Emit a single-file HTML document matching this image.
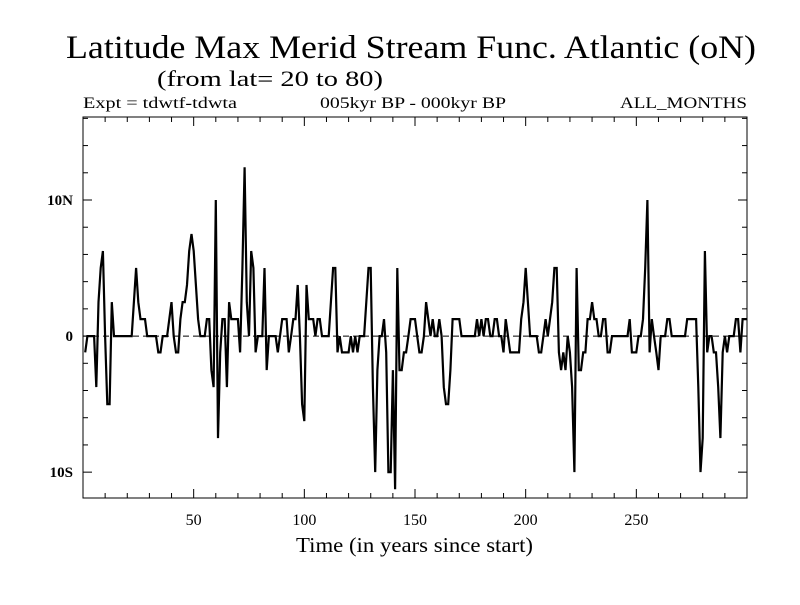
<!DOCTYPE html>
<html><head><meta charset="utf-8"><style>
body{margin:0;background:#fff;}
svg text{font-family:"Liberation Serif",serif;fill:#000;}
</style></head><body>
<svg id="chart" width="800" height="600" xmlns="http://www.w3.org/2000/svg">
<rect width="800" height="600" fill="#fff"/>
<text x="66" y="58" font-size="33" textLength="690" lengthAdjust="spacingAndGlyphs">Latitude Max Merid Stream Func. Atlantic (oN)</text>
<text x="157" y="86" font-size="22" textLength="226" lengthAdjust="spacingAndGlyphs">(from lat= 20 to 80)</text>
<text x="83" y="108" font-size="16" textLength="154" lengthAdjust="spacingAndGlyphs">Expt = tdwtf-tdwta</text>
<text x="320" y="108" font-size="16" textLength="186" lengthAdjust="spacingAndGlyphs">005kyr BP - 000kyr BP</text>
<text x="620" y="108" font-size="16" textLength="127" lengthAdjust="spacingAndGlyphs">ALL_MONTHS</text>
<text x="296" y="552" font-size="21" textLength="237" lengthAdjust="spacingAndGlyphs">Time (in years since start)</text>
<g id="axes"></g>
<g id="series"></g>
</svg>
<script>
const tickYears = [50,100,150,200,250];
const yTickVals = [10,0,-10];
const yTickLabels = ["10N","0","10S"];
const values1 = [-1.2,0,0,0,0,-3.75,2.5,5,6.25,0,-5,-5,2.5,0,0,0,0,0,0,0,0,0,2.5,5,2.5,1.25,1.25,1.25,0,0,0,0,0,-1.2,-1.2,0,0,0,1.25,2.5,0,-1.2,-1.2,1.25,2.5,2.5,3.75,6.25,7.5,6.25];
const values2 = [3.75,1.25,0,0,0,1.25,1.25,-2.5,-3.75,10,-7.5,-1.2,1.25,1.25,-3.75,2.5,1.25,1.25,1.25,1.25,-1.2,5,12.4,2.5,0,6.25,5,-1.2,0,0,0,5,-2.5,0,0,0,0,-1.2,0,1.25,1.25,1.25,-1.2,0,1.25,1.25,3.75,0,-5,-6.25];
const values3 = [3.75,1.25,1.25,1.25,0,1.25,1.25,0,0,0,0,2.5,5,5,-1.2,0,-1.2,-1.2,-1.2,-1.2,0,-1.2,0,-1.2,0,0,0,2.5,5,5,-3.75,-10,-2.5,0,0,1.25,-1.2,-10,-10,-2.5,-11.25,5,-2.5,-2.5,-1.2,-1.2,0,1.25,1.25,1.25];
const values4 = [0,-1.2,-1.2,0,2.5,1.25,0,1.25,0,0,1.25,0,-3.75,-5,-5,-2.5,1.25,1.25,1.25,1.25,0,0,0,0,0,0,0,1.25,0,1.25,0,1.25,1.25,0,0,1.25,1.25,0,0,-1.2,1.25,0,-1.2,-1.2,-1.2,-1.2,-1.2,1.25,2.5,5];
const values5 = [2.5,0,0,0,0,-1.2,-1.2,0,1.25,0,1.25,2.5,5,5,-1.2,-2.5,-1.2,-2.5,0,-1.2,-3.75,-10,5,-2.5,-2.5,-1.2,-1.2,1.25,1.25,2.5,1.25,1.25,0,0,1.25,1.25,-1.2,-1.2,0,0,0,0,0,0,0,0,1.25,-1.2,-1.2,-1.2];
const values6 = [0,0,1.25,5,10,-1.2,1.25,0,-1.2,-2.5,0,0,0,1.25,1.25,0,0,0,0,0,0,0,1.25,1.25,1.25,1.25,1.25,-3.75,-10,-7.5,6.25,-1.2,0,0,-1.2,-1.2,-3.75,-7.5,-1.2,0,-1.2,0,0,0,1.25,1.25,-1.2,1.25,1.25,1.25];
const values = values1.concat(values2,values3,values4,values5,values6);

const L=83,R=747,T=117,B=498,XMIN=0,XMAX=300,YMIN=-11.9,YMAX=16.1;
const xs=v=>L+(v-XMIN)/(XMAX-XMIN)*(R-L);
const ys=v=>B-(v-YMIN)/(YMAX-YMIN)*(B-T);
const NS="http://www.w3.org/2000/svg";
const axes=document.getElementById('axes'), series=document.getElementById('series');
function mk(tag,attrs,parent){const e=document.createElementNS(NS,tag);for(const k in attrs)e.setAttribute(k,attrs[k]);parent.appendChild(e);return e;}

const frame=mk('rect',{x:L,y:T,width:R-L,height:B-T,fill:'none',stroke:'#000','stroke-width':1},axes);


const zl=mk('line',{x1:L,x2:R,y1:ys(0),y2:ys(0),stroke:'#000','stroke-width':1,'stroke-dasharray':'6,4'},axes);



for(let t=10;t<300;t+=10){
  const len=(t%50===0)?9:5;
  mk('line',{x1:xs(t),x2:xs(t),y1:B,y2:B-len,stroke:'#000'},axes);
  mk('line',{x1:xs(t),x2:xs(t),y1:T,y2:T+len,stroke:'#000'},axes);
}
for(let v=-10;v<=16;v+=2){
  const len=(v%10===0)?9:5;
  mk('line',{x1:L,x2:L+len,y1:ys(v),y2:ys(v),stroke:'#000'},axes);
  mk('line',{x1:R,x2:R-len,y1:ys(v),y2:ys(v),stroke:'#000'},axes);
}
tickYears.forEach(t=>{
  const e=mk('text',{x:xs(t),y:525,'font-size':16,'text-anchor':'middle'},axes);
  e.textContent=t;
  
  
});
yTickVals.forEach((v,i)=>{
  const e=mk('text',{x:73,y:ys(v)+5,'font-size':15,'font-weight':'bold','text-anchor':'end'},axes);
  e.textContent=yTickLabels[i];
  
  
});
const pts=values.map((v,i)=>xs(i+1).toFixed(1)+','+ys(v).toFixed(1)).join(' ');
const line=mk('polyline',{points:pts,fill:'none',stroke:'#000','stroke-width':2.2,'stroke-linejoin':'miter'},series);


</script>
</body></html>
